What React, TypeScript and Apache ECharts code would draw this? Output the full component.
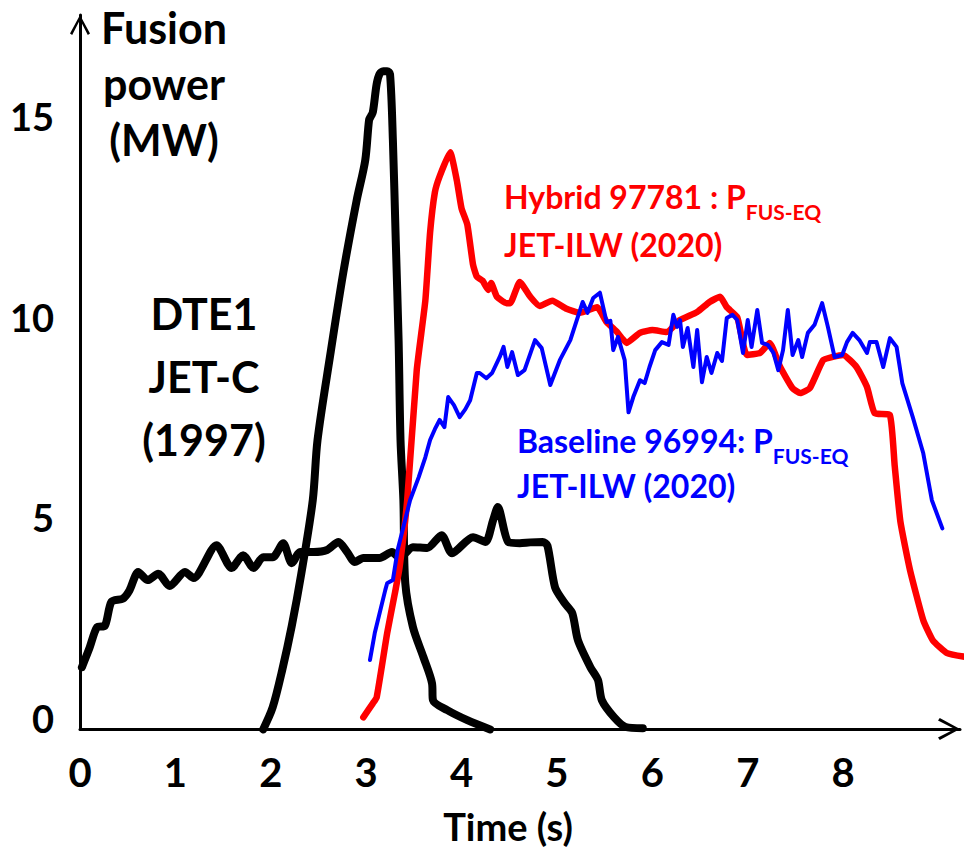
import React, { useEffect, useRef } from "react";
import * as echarts from "echarts";

// DTE1 record pulse (JET-C, 1997)
const peakT = [1.92, 2.02, 2.12, 2.22, 2.32, 2.44, 2.49, 2.62, 2.76, 2.9, 2.99, 3.03, 3.05, 3.07, 3.11, 3.14, 3.18, 3.22, 3.25, 3.28, 3.31, 3.34, 3.36, 3.39, 3.41, 3.49, 3.6, 3.69, 3.7, 3.85, 4.06, 4.3];
const peakP = [-0.28, 0.27, 1.2, 2.3, 3.6, 5.43, 6.93, 9.0, 11.1, 12.9, 13.9, 14.9, 15.0, 15.1, 15.8, 16.05, 16.12, 16.12, 16.05, 14.4, 11.9, 9.4, 6.93, 5.43, 3.36, 2.27, 1.52, 0.87, 0.45, 0.2, -0.05, -0.28];

// DTE1 steady pulse (JET-C, 1997)
const steadyT = [0.02, 0.1, 0.18, 0.26, 0.33, 0.45, 0.52, 0.61, 0.71, 0.82, 0.94, 1.1, 1.19, 1.43, 1.59, 1.71, 1.82, 1.92, 2.02, 2.13, 2.22, 2.31, 2.45, 2.59, 2.71, 2.8, 2.88, 2.97, 3.14, 3.27, 3.35, 3.49, 3.64, 3.79, 3.9, 4.12, 4.25, 4.33, 4.38, 4.49, 4.61, 4.72, 4.85, 4.9, 4.98, 5.08, 5.16, 5.22, 5.35, 5.43, 5.47, 5.6, 5.72, 5.9];
const steadyP = [1.27, 1.75, 2.27, 2.3, 2.9, 2.98, 3.19, 3.64, 3.44, 3.6, 3.29, 3.64, 3.49, 4.31, 3.74, 4.06, 3.74, 4.01, 4.01, 4.36, 3.86, 4.14, 4.14, 4.19, 4.39, 4.14, 3.89, 3.99, 3.99, 4.14, 3.99, 4.26, 4.24, 4.56, 4.11, 4.51, 4.39, 4.93, 5.26, 4.39, 4.36, 4.38, 4.39, 4.3, 3.26, 2.87, 2.62, 1.94, 1.27, 0.95, 0.45, 0.02, -0.22, -0.25];

// Hybrid 97781 (JET-ILW, 2020)
const hybridT = [2.97, 3.07, 3.11, 3.22, 3.3, 3.35, 3.43, 3.53, 3.62, 3.67, 3.72, 3.77, 3.88, 3.95, 4.0, 4.06, 4.12, 4.16, 4.22, 4.28, 4.31, 4.37, 4.47, 4.51, 4.61, 4.72, 4.82, 4.95, 5.1, 5.24, 5.42, 5.52, 5.63, 5.73, 5.87, 6.0, 6.15, 6.29, 6.47, 6.6, 6.71, 6.78, 6.89, 6.99, 7.13, 7.23, 7.34, 7.47, 7.55, 7.65, 7.79, 7.89, 8.0, 8.14, 8.25, 8.33, 8.49, 8.54, 8.6, 8.7, 8.84, 8.94, 9.09, 9.3];
const hybridP = [0.02, 0.37, 0.52, 2.12, 3.1, 3.76, 5.43, 8.67, 10.4, 12.1, 13.1, 13.5, 14.1, 13.4, 12.7, 12.3, 11.3, 11.0, 10.9, 10.67, 10.84, 10.5, 10.34, 10.34, 10.87, 10.5, 10.27, 10.4, 10.2, 10.1, 10.24, 9.87, 9.62, 9.35, 9.6, 9.67, 9.62, 9.92, 10.12, 10.37, 10.5, 10.24, 9.99, 9.05, 9.1, 9.35, 8.75, 8.22, 8.1, 8.22, 8.92, 9.0, 9.05, 8.75, 8.25, 7.6, 7.55, 6.3, 4.9, 3.7, 2.44, 1.94, 1.62, 1.52];

// Baseline 96994 (JET-ILW, 2020)
const baselineT = [3.04, 3.09, 3.2, 3.22, 3.28, 3.33, 3.46, 3.55, 3.62, 3.67, 3.72, 3.77, 3.82, 3.86, 3.92, 3.98, 4.04, 4.09, 4.16, 4.19, 4.26, 4.32, 4.4, 4.44, 4.48, 4.53, 4.59, 4.66, 4.77, 4.84, 4.93, 5.03, 5.14, 5.27, 5.32, 5.38, 5.45, 5.52, 5.56, 5.59, 5.64, 5.71, 5.75, 5.8, 5.87, 5.92, 5.97, 6.03, 6.1, 6.17, 6.22, 6.26, 6.29, 6.32, 6.37, 6.43, 6.47, 6.52, 6.57, 6.62, 6.68, 6.73, 6.78, 6.84, 6.89, 6.95, 7.0, 7.04, 7.1, 7.15, 7.21, 7.27, 7.32, 7.37, 7.42, 7.47, 7.53, 7.57, 7.63, 7.7, 7.78, 7.84, 7.91, 7.99, 8.04, 8.1, 8.17, 8.25, 8.28, 8.35, 8.42, 8.49, 8.56, 8.62, 8.73, 8.84, 8.93, 9.04];
const baselineP = [1.45, 2.12, 3.19, 3.36, 3.44, 4.19, 5.43, 6.0, 6.5, 6.93, 7.2, 7.43, 7.25, 8.0, 7.8, 7.5, 7.7, 7.92, 8.6, 8.6, 8.47, 8.6, 9.0, 9.25, 8.75, 9.12, 8.55, 8.67, 9.42, 9.22, 8.3, 8.92, 9.42, 10.37, 10.1, 10.47, 10.6, 9.87, 9.9, 9.17, 9.5, 8.92, 7.62, 8.0, 8.42, 8.35, 8.75, 9.17, 9.37, 9.3, 10.05, 9.75, 9.92, 9.25, 9.72, 8.75, 9.67, 8.37, 9.0, 8.6, 9.1, 8.9, 9.97, 10.05, 9.92, 9.1, 9.92, 9.25, 10.17, 9.35, 9.3, 9.1, 8.67, 9.17, 10.17, 9.05, 9.42, 9.0, 9.6, 9.8, 10.34, 9.75, 9.0, 9.05, 9.37, 9.6, 9.42, 9.1, 9.37, 9.37, 8.75, 9.47, 9.25, 8.35, 7.5, 6.6, 5.43, 4.73];

const xTicks = [0, 1, 2, 3, 4, 5, 6, 7, 8];
const yTicks = [0, 5, 10, 15];

const FONT = "Lato";
const chevron = "path://M5,0 L10,9.2 L8.9,10 L5,2.4 L1.1,10 L0,9.2 Z";

const pair = (t: number[], p: number[]) => t.map((x, i) => [x, p[i]]);

export default function App() {
  const ref = useRef<HTMLDivElement>(null);
  useEffect(() => {
    const chart = echarts.init(ref.current!, null, { renderer: "svg" });
    const lineSeries = (name: string, data: number[][], color: string, width: number, z: number, smooth: number) => ({
      name,
      type: "line",
      data,
      showSymbol: false,
      symbol: "none",
      clip: false,
      smooth,
      z,
      lineStyle: { color, width, cap: "round", join: "round" },
    });
    const center = { align: "center", verticalAlign: "middle", textAlign: "center", textVerticalAlign: "middle" };
    const leftMid = { align: "left", verticalAlign: "middle", textAlign: "left", textVerticalAlign: "middle" };
    chart.setOption({
      animation: false,
      backgroundColor: "#ffffff",
      grid: { left: 80, right: 7, top: 15, bottom: 121 },
      xAxis: {
        type: "value",
        min: 0,
        max: 9.225,
        axisLine: {
          onZero: false,
          lineStyle: { color: "#000", width: 3 },
          symbol: ["none", chevron],
          symbolSize: [22, 22],
          symbolOffset: [0, -11],
        },
        axisTick: { show: false },
        splitLine: { show: false },
        axisLabel: {
          customValues: xTicks,
          color: "#000",
          fontFamily: FONT,
          fontWeight: "bold",
          fontSize: 40,
          verticalAlign: "middle",
          margin: 43,
        },
      },
      yAxis: {
        type: "value",
        min: -0.27,
        max: 17.52,
        axisLine: {
          show: true,
          onZero: false,
          lineStyle: { color: "#000", width: 3 },
          symbol: ["none", chevron],
          symbolSize: [20, 20],
          symbolOffset: [0, -10],
        },
        axisTick: { show: false },
        splitLine: { show: false },
        axisLabel: {
          customValues: yTicks,
          color: "#000",
          fontFamily: FONT,
          fontWeight: "bold",
          fontSize: 38,
          margin: 26,
        },
      },
      series: [
        lineSeries("DTE1 steady", pair(steadyT, steadyP), "#000000", 8, 2, 0.25),
        lineSeries("DTE1 record", pair(peakT, peakP), "#000000", 8, 2, 0.3),
        lineSeries("Hybrid 97781", pair(hybridT, hybridP), "#ff0000", 6.5, 3, 0.15),
        lineSeries("Baseline 96994", pair(baselineT, baselineP), "#0000ff", 4, 4, 0),
      ],
      graphic: [
        { type: "text", x: 164, y: 27, style: { text: "Fusion", fill: "#000", font: `bold 43px ${FONT}`, ...center } },
        { type: "text", x: 164, y: 83, style: { text: "power", fill: "#000", font: `bold 43px ${FONT}`, ...center } },
        { type: "text", x: 164, y: 139, style: { text: "(MW)", fill: "#000", font: `bold 43px ${FONT}`, ...center } },
        { type: "text", x: 204, y: 313, style: { text: "DTE1", fill: "#000", font: `bold 43px ${FONT}`, ...center } },
        { type: "text", x: 204, y: 376, style: { text: "JET-C", fill: "#000", font: `bold 43px ${FONT}`, ...center } },
        { type: "text", x: 204, y: 439, style: { text: "(1997)", fill: "#000", font: `bold 43px ${FONT}`, ...center } },
        {
          type: "text", x: 504, y: 196,
          style: {
            text: "{a|Hybrid 97781 : P}{s|FUS-EQ}",
            fill: "#ff0000", ...leftMid,
            rich: {
              a: { fontFamily: FONT, fontWeight: "bold", fontSize: 32, fill: "#ff0000", color: "#ff0000" },
              s: { fontFamily: FONT, fontWeight: "bold", fontSize: 21, fill: "#ff0000", color: "#ff0000", padding: [30, 0, 0, 0] },
            },
          },
        },
        { type: "text", x: 504, y: 244, style: { text: "JET-ILW (2020)", fill: "#ff0000", font: `bold 32px ${FONT}`, ...leftMid } },
        {
          type: "text", x: 517, y: 440,
          style: {
            text: "{a|Baseline 96994: P}{s|FUS-EQ}",
            fill: "#0000ff", ...leftMid,
            rich: {
              a: { fontFamily: FONT, fontWeight: "bold", fontSize: 32, fill: "#0000ff", color: "#0000ff" },
              s: { fontFamily: FONT, fontWeight: "bold", fontSize: 21, fill: "#0000ff", color: "#0000ff", padding: [30, 0, 0, 0] },
            },
          },
        },
        { type: "text", x: 517, y: 485, style: { text: "JET-ILW (2020)", fill: "#0000ff", font: `bold 32px ${FONT}`, ...leftMid } },
        { type: "text", x: 508, y: 826, style: { text: "Time (s)", fill: "#000", font: `bold 38px ${FONT}`, ...center } },
      ],
    });
    return () => chart.dispose();
  }, []);
  return <div ref={ref} style={{ position: "fixed", left: 0, top: 0, width: 967, height: 850, background: "#fff" }} />;
}
